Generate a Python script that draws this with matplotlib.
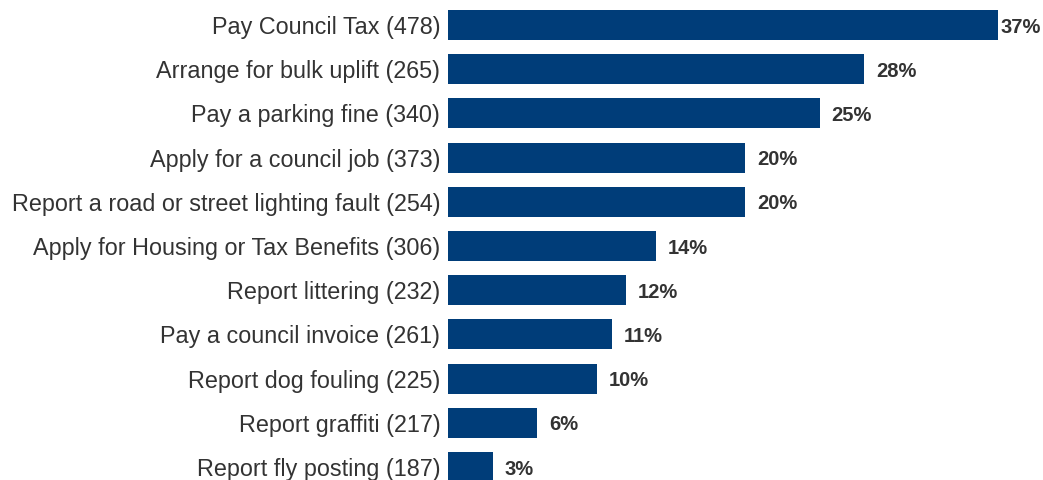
import matplotlib.pyplot as plt

plt.rcParams["font.family"] = ["Liberation Sans", "DejaVu Sans"]

services = [
    "Pay Council Tax (478)",
    "Arrange for bulk uplift (265)",
    "Pay a parking fine (340)",
    "Apply for a council job (373)",
    "Report a road or street lighting fault (254)",
    "Apply for Housing or Tax Benefits (306)",
    "Report littering (232)",
    "Pay a council invoice (261)",
    "Report dog fouling (225)",
    "Report graffiti (217)",
    "Report fly posting (187)",
]
percent = [37, 28, 25, 20, 20, 14, 12, 11, 10, 6, 3]

bar_color = "#003d79"
text_color = "#333333"

fig = plt.figure(figsize=(10.43, 4.8), dpi=100)
ax = fig.add_axes([448 / 1043, 0, 550 / 1043, 1])

ypos = list(range(len(services)))
ax.barh(ypos, percent, height=0.68, color=bar_color)

ax.set_xlim(0, max(percent))
ax.set_ylim(10.294, -0.566)

ax.set_yticks(ypos)
ax.set_yticklabels(services, fontsize=16.8, color=text_color)
ax.tick_params(axis="y", length=0, pad=5.5)
ax.set_xticks([])
for side in ax.spines.values():
    side.set_visible(False)

# value labels; the longest bar keeps its label tight so it stays on the canvas
for y, v in zip(ypos, percent):
    off = 1.5 if v == max(percent) else 8.5
    ax.annotate(f"{v}%", (v, y), xytext=(off, -1.5), textcoords="offset points",
                ha="left", va="center", fontsize=14.5, fontweight="bold",
                color=text_color, annotation_clip=False)

fig.savefig("out.png", dpi=100)
